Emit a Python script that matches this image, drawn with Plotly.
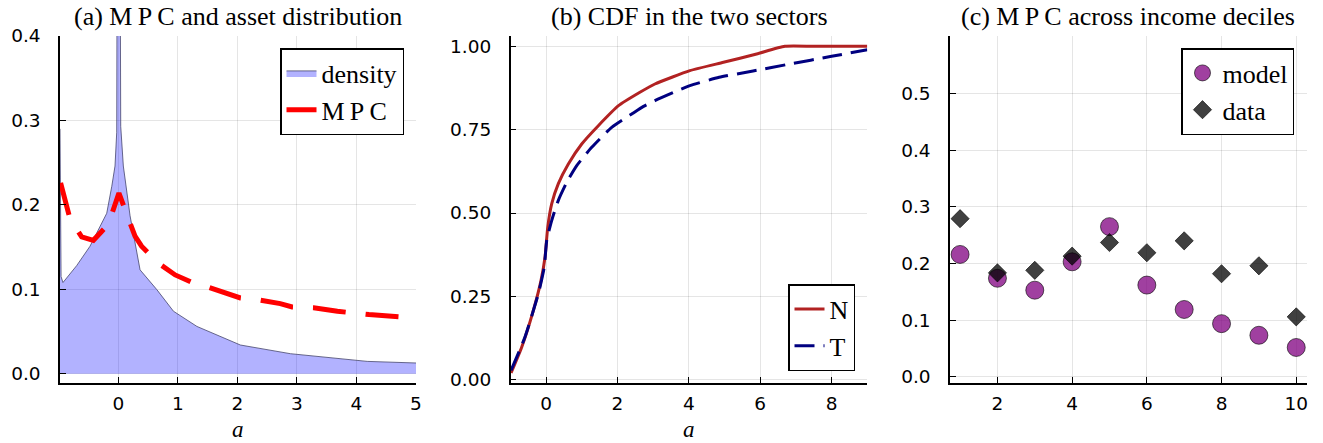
import plotly.graph_objects as go

# ---- panel (a): asset density and MPC over assets ----
dens_a = [-0.98, -0.972, -0.962, -0.93, -0.7, -0.476, -0.195, -0.11, -0.056, -0.027,
          0.0, 0.04, 0.084, 0.197, 0.365, 0.646, 0.926, 1.32, 2.05, 2.89, 4.18, 5.0]
density = [0.29, 0.18, 0.115, 0.108, 0.128, 0.151, 0.19, 0.222, 0.246, 0.286,
           1.2, 0.293, 0.246, 0.187, 0.123, 0.0996, 0.074, 0.056, 0.034, 0.0237, 0.0146, 0.0127]

mpc_a = [-0.97, -0.81, -0.616, -0.42, -0.168, 0.01, 0.15, 0.28, 0.39, 0.67, 0.955,
         1.32, 1.49, 1.82, 2.05, 2.39, 2.72, 2.92, 3.28, 3.68, 4.21, 5.0]
mpc = [0.226, 0.183, 0.162, 0.158, 0.177, 0.214, 0.187, 0.163, 0.151, 0.131, 0.117,
       0.1056, 0.103, 0.095, 0.0897, 0.087, 0.083, 0.079, 0.078, 0.074, 0.070, 0.066]

# ---- panel (b): CDF of assets in the two sectors ----
cdf_N_a = [-0.98, -0.68, -0.355, -0.14, -0.028, 0.047, 0.16, 0.345, 0.625, 1.0, 1.465,
           2.03, 2.63, 3.05, 4.03, 4.97, 5.9, 6.69, 7.5, 9.0]
cdf_N = [0.020, 0.098, 0.208, 0.298, 0.368, 0.457, 0.528, 0.588, 0.647, 0.707, 0.762,
         0.822, 0.862, 0.887, 0.927, 0.952, 0.977, 1.0, 1.0, 1.0]
cdf_T_a = [-0.98, -0.59, -0.215, -0.05, 0.02, 0.16, 0.345, 0.58, 0.86, 1.28, 1.84,
           2.4, 2.73, 3.05, 4.03, 4.85, 5.8, 6.83, 8.0, 9.0]
cdf_T = [0.028, 0.128, 0.258, 0.338, 0.418, 0.478, 0.538, 0.592, 0.642, 0.697, 0.757,
         0.797, 0.820, 0.837, 0.882, 0.907, 0.926, 0.947, 0.970, 0.990]

# ---- panel (c): MPC by income decile ----
deciles = [1, 2, 3, 4, 5, 6, 7, 8, 9, 10]
mpc_model = [0.216, 0.174, 0.153, 0.203, 0.265, 0.162, 0.119, 0.094, 0.0735, 0.052]
mpc_data = [0.279, 0.1835, 0.188, 0.213, 0.237, 0.219, 0.24, 0.182, 0.196, 0.106]

titles = ["(a) M\u2009P\u2009C and asset distribution",
          "(b) CDF in the two sectors",
          "(c) M\u2009P\u2009C across income deciles"]

W, H = 1323, 443
SERIF = "Liberation Serif"
SANS = "DejaVu Sans"

x_dom = [[60 / W, 416 / W], [510.7 / W, 867.3 / W], [950 / W, 1306.7 / W]]
y_dom = [1 - 383 / H, 1 - 36 / H]

fig = go.Figure()

fig.add_trace(go.Scatter(
    x=dens_a, y=density, mode="lines", fill="tozeroy",
    fillcolor="rgba(0,0,255,0.3)", line=dict(color="rgba(60,60,100,0.75)", width=1),
    name="density", xaxis="x", yaxis="y", legend="legend"))
fig.add_trace(go.Scatter(
    x=mpc_a, y=mpc, mode="lines",
    line=dict(color="#ff0000", width=5, dash="33px,20px"),
    name="M\u2009P\u2009C", xaxis="x", yaxis="y", legend="legend"))

fig.add_trace(go.Scatter(
    x=cdf_N_a, y=cdf_N, mode="lines",
    line=dict(color="#b22222", width=3, shape="spline", smoothing=0.5),
    name="N", xaxis="x2", yaxis="y2", legend="legend2"))
fig.add_trace(go.Scatter(
    x=cdf_T_a, y=cdf_T, mode="lines",
    line=dict(color="#000080", width=3, dash="20px,9px", shape="spline", smoothing=0.5),
    name="T", xaxis="x2", yaxis="y2", legend="legend2"))

fig.add_trace(go.Scatter(
    x=deciles, y=mpc_model, mode="markers",
    marker=dict(symbol="circle", size=18, color="rgba(128,0,128,0.75)",
                line=dict(color="rgba(0,0,0,0.6)", width=1)),
    name="model", xaxis="x3", yaxis="y3", legend="legend3"))
fig.add_trace(go.Scatter(
    x=deciles, y=mpc_data, mode="markers",
    marker=dict(symbol="diamond", size=14, color="rgba(0,0,0,0.75)",
                line=dict(color="rgba(0,0,0,0.6)", width=1)),
    name="data", xaxis="x3", yaxis="y3", legend="legend3"))

axis_common = dict(
    showline=True, linecolor="black", linewidth=1.5, mirror=False, automargin=False,
    showgrid=True, gridcolor="rgba(0,0,0,0.1)", gridwidth=1, zeroline=False,
    ticks="inside", ticklen=6, tickcolor="black", tickwidth=1.2,
    tickfont=dict(family=SANS, size=18.5, color="black"),
)

legend_common = dict(bordercolor="black", borderwidth=1.5, bgcolor="white",
                     font=dict(family=SERIF, size=26, color="black"),
                     tracegroupgap=0, itemwidth=30)

fig.update_layout(
    width=W, height=H, margin=dict(l=0, r=0, t=0, b=0, autoexpand=False),
    plot_bgcolor="white", paper_bgcolor="white",
    xaxis=dict(axis_common, domain=x_dom[0], anchor="y", range=[-0.98, 5.0],
               tickvals=[0, 1, 2, 3, 4, 5], ticklabelstandoff=3),
    yaxis=dict(axis_common, domain=y_dom, anchor="x", range=[-0.011, 0.4],
               tickvals=[0, 0.1, 0.2, 0.3, 0.4], tickformat=".1f", ticklabelstandoff=14),
    xaxis2=dict(axis_common, domain=x_dom[1], anchor="y2", range=[-0.99, 9.0],
                tickvals=[0, 2, 4, 6, 8], ticklabelstandoff=3),
    yaxis2=dict(axis_common, domain=y_dom, anchor="x2", range=[-0.01, 1.031],
                tickvals=[0, 0.25, 0.5, 0.75, 1.0], tickformat=".2f", ticklabelstandoff=14),
    xaxis3=dict(axis_common, domain=x_dom[2], anchor="y3", range=[0.73, 10.28],
                tickvals=[2, 4, 6, 8, 10], ticklabelstandoff=3),
    yaxis3=dict(axis_common, domain=y_dom, anchor="x3", range=[-0.0106, 0.601],
                tickvals=[0, 0.1, 0.2, 0.3, 0.4, 0.5], tickformat=".1f", ticklabelstandoff=14),
    legend=dict(legend_common, x=404 / W, y=1 - 48 / H, xanchor="right", yanchor="top"),
    legend2=dict(legend_common, x=855 / W, y=1 - 371 / H, xanchor="right", yanchor="bottom"),
    legend3=dict(legend_common, x=1294 / W, y=1 - 48 / H, xanchor="right", yanchor="top"),
)

annotations = []
for i, t in enumerate(titles):
    annotations.append(dict(
        text=t, x=sum(x_dom[i]) / 2, y=1 - 16 / H, xref="paper", yref="paper",
        xanchor="center", yanchor="middle", showarrow=False,
        font=dict(family=SERIF, size=26, color="black")))
for i in range(2):
    annotations.append(dict(
        text="<i>a</i>", x=sum(x_dom[i]) / 2, y=0, xref="paper", yref="paper",
        xanchor="center", yanchor="bottom", showarrow=False, borderpad=0,
        font=dict(family=SERIF, size=23, color="black")))
fig.update_layout(annotations=annotations)

fig.write_html("out.html")
